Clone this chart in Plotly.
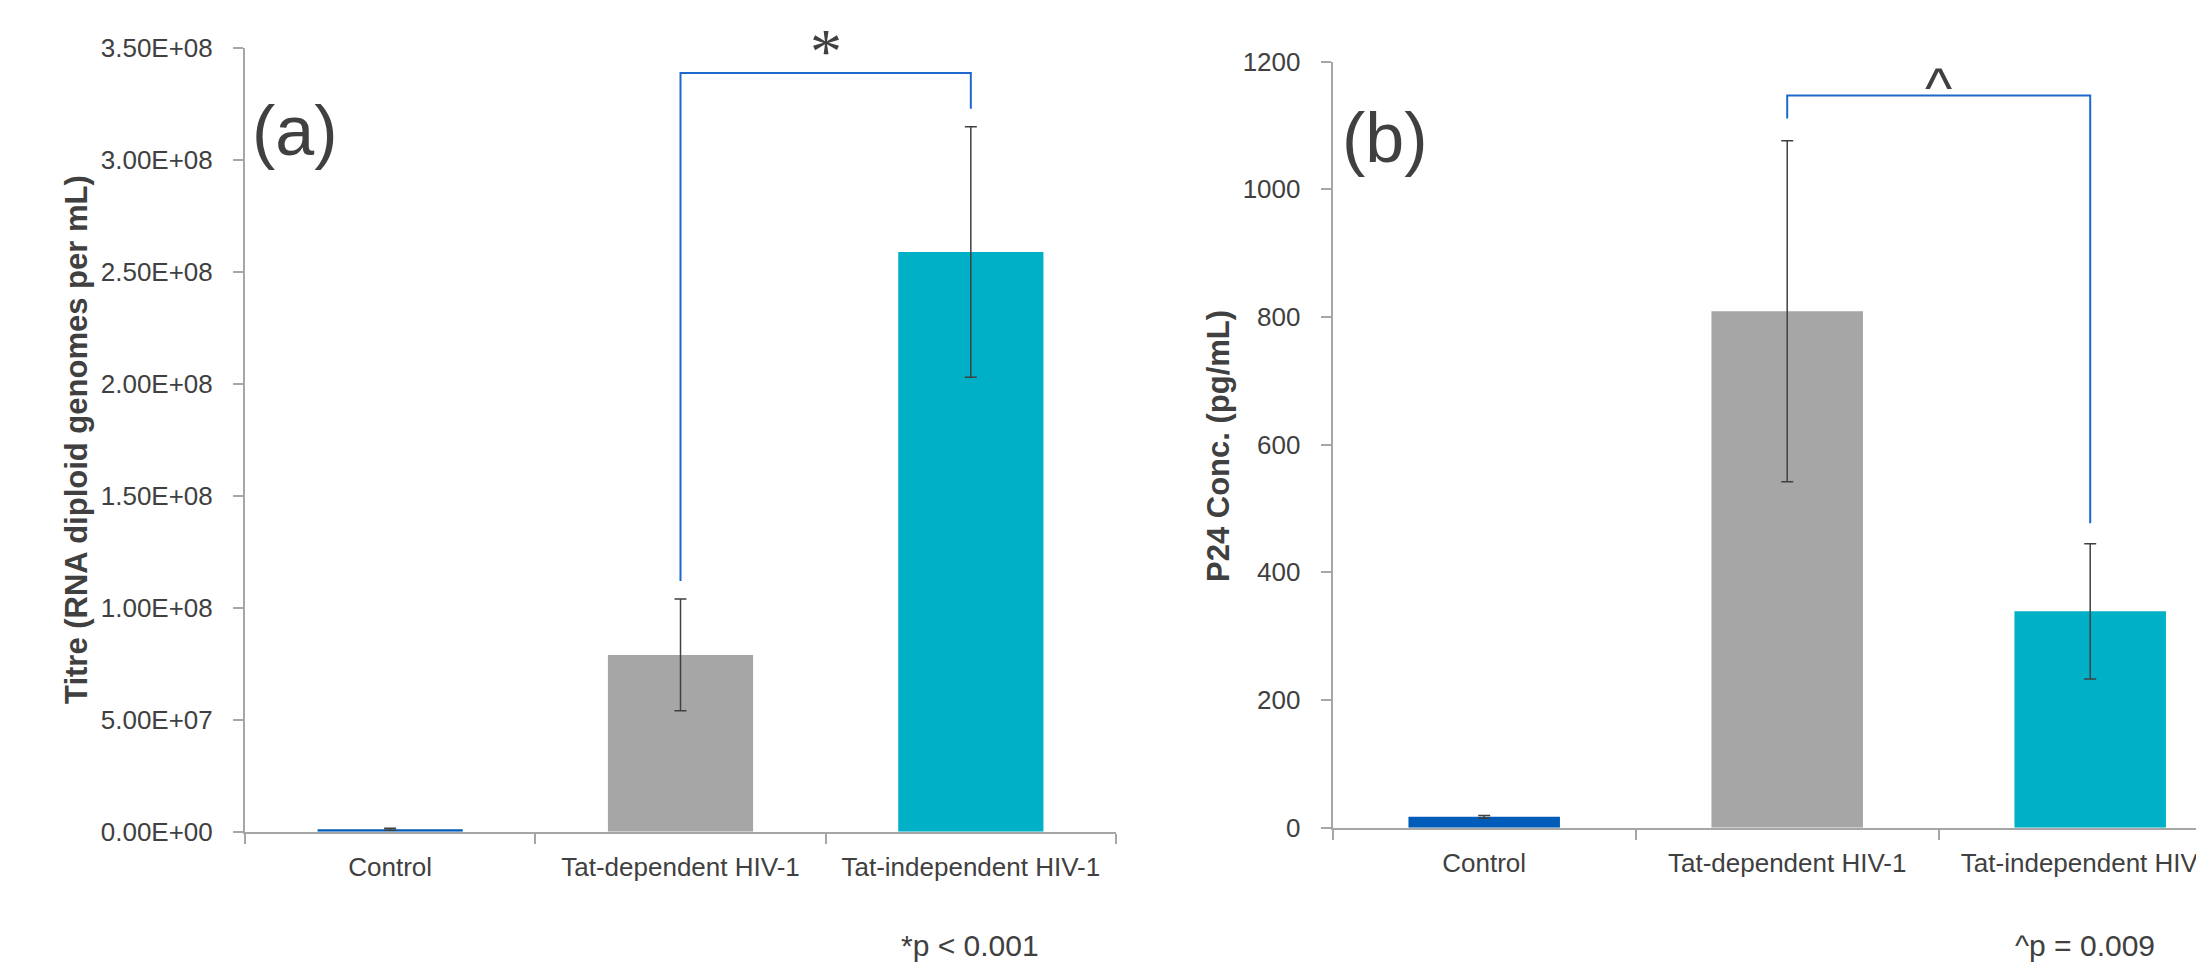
import plotly.graph_objects as go

# ---------------- data ----------------
categories = ["Control", "Tat-dependent HIV-1", "Tat-independent HIV-1"]
bar_colors = ["#005CB9", "#A6A6A6", "#00B0C6"]

# panel (a): titre (RNA diploid genomes per mL)
titre_mean = [1.1e6, 7.9e7, 2.59e8]
titre_err = [4e5, 2.5e7, 5.6e7]
titre_ticks = [0, 5e7, 1e8, 1.5e8, 2e8, 2.5e8, 3e8, 3.5e8]

# panel (b): P24 concentration (pg/mL)
p24_mean = [17, 809, 339]
p24_err = [2, 267, 106]
p24_ticks = [0, 200, 400, 600, 800, 1000, 1200]

# significance brackets (left foot, top, top, right foot)
bracket_cats = ["Tat-dependent HIV-1", "Tat-dependent HIV-1",
                "Tat-independent HIV-1", "Tat-independent HIV-1"]
bracket_a_y = [1.12e8, 3.39e8, 3.39e8, 3.23e8]
bracket_b_y = [1111, 1147, 1147, 477]
bracket_a_top = 3.39e8
bracket_b_top = 1147

# ---------------- style ----------------
VW, VH = 2204, 972          # browser viewport
OFF = 8                     # default page body margin
W, H = VW - OFF, VH - OFF   # figure size so the page fits the viewport
FONT = "Liberation Sans, Arial, sans-serif"
TXT = "#404040"
AXC = "#A6A6A6"
BRC = "#1C68CC"


def px_x(p):
    """screen x pixel -> paper fraction"""
    return (p - OFF) / W


def px_y(p):
    """screen y pixel (from top) -> paper fraction"""
    return 1 - (p - OFF) / H


fig = go.Figure()

fig.add_trace(go.Bar(
    x=categories, y=titre_mean, width=0.5,
    marker=dict(color=bar_colors, line=dict(width=0)),
    error_y=dict(type="data", array=titre_err, color=TXT, thickness=1.5, width=6),
    xaxis="x", yaxis="y", showlegend=False))

fig.add_trace(go.Bar(
    x=categories, y=p24_mean, width=0.5,
    marker=dict(color=bar_colors, line=dict(width=0)),
    error_y=dict(type="data", array=p24_err, color=TXT, thickness=1.5, width=6),
    xaxis="x2", yaxis="y2", showlegend=False))

fig.add_trace(go.Scatter(
    x=bracket_cats, y=bracket_a_y, mode="lines",
    line=dict(color=BRC, width=2), xaxis="x", yaxis="y",
    showlegend=False, hoverinfo="skip"))

fig.add_trace(go.Scatter(
    x=bracket_cats, y=bracket_b_y, mode="lines",
    line=dict(color=BRC, width=2), xaxis="x2", yaxis="y2",
    showlegend=False, hoverinfo="skip"))

xcommon = dict(type="category", showline=True, linecolor=AXC, linewidth=2,
               ticks="outside", tickson="boundaries", ticklen=10, tickwidth=1.5,
               tickcolor=AXC, tickfont=dict(family=FONT, size=26, color=TXT),
               showgrid=False, zeroline=False, ticklabelstandoff=11,
               automargin=False)
ycommon = dict(showline=True, linecolor=AXC, linewidth=2, ticks="outside",
               ticklen=10, tickwidth=1.5, tickcolor=AXC,
               tickfont=dict(family=FONT, size=26, color=TXT),
               showgrid=False, zeroline=False, ticklabelstandoff=15,
               automargin=False)

# category step for panel (b): axis runs past the right edge of the picture
b_left, b_step = 1332.7, 303.0
b_range_end = -0.5 + (VW - b_left) / b_step

fig.update_layout(
    width=W, height=H, autosize=False,
    margin=dict(l=0, r=0, t=0, b=0, pad=0, autoexpand=False),
    paper_bgcolor="white", plot_bgcolor="white",
    showlegend=False,
    bargap=0.5,
    xaxis=dict(xcommon, domain=[px_x(245), px_x(1116)], anchor="y",
               range=[-0.5, 2.5]),
    yaxis=dict(ycommon, domain=[px_y(831.7), px_y(48.3)], anchor="x",
               range=[0, 3.5e8], tickvals=titre_ticks,
               ticktext=[f"{v:.2E}" for v in titre_ticks]),
    xaxis2=dict(xcommon, domain=[px_x(b_left), 1.0], anchor="y2",
                range=[-0.5, b_range_end]),
    yaxis2=dict(ycommon, domain=[px_y(827.7), px_y(61.7)], anchor="x2",
                range=[0, 1200], tickvals=p24_ticks,
                ticktext=[str(v) for v in p24_ticks]),
)

annotations = [
    # significance markers
    dict(text="*", x=1.5, y=bracket_a_top, xref="x", yref="y",
         xanchor="center", yanchor="bottom", showarrow=False, yshift=-16,
         font=dict(family="Liberation Serif, Times New Roman, serif", size=64, color=TXT)),
    dict(text="^", x=1.5, y=bracket_b_top, xref="x2", yref="y2",
         xanchor="center", yanchor="bottom", showarrow=False, yshift=-26,
         font=dict(family=FONT, size=58, color=TXT)),
    # panel labels
    dict(text="(a)", x=px_x(250), y=px_y(131), xref="paper", yref="paper",
         xanchor="left", yanchor="middle", showarrow=False,
         font=dict(family=FONT, size=70, color=TXT)),
    dict(text="(b)", x=px_x(1340), y=px_y(138), xref="paper", yref="paper",
         xanchor="left", yanchor="middle", showarrow=False,
         font=dict(family=FONT, size=70, color=TXT)),
    # axis titles
    dict(text="<b>Titre (RNA diploid genomes per mL)</b>", x=px_x(77), y=px_y(440),
         xref="paper", yref="paper", xanchor="center", yanchor="middle",
         textangle=-90, showarrow=False,
         font=dict(family=FONT, size=31, color=TXT)),
    dict(text="<b>P24 Conc. (pg/mL)</b>", x=px_x(1219), y=px_y(446),
         xref="paper", yref="paper", xanchor="center", yanchor="middle",
         textangle=-90, showarrow=False,
         font=dict(family=FONT, size=31, color=TXT)),
    # footnotes
    dict(text="*p < 0.001", x=px_x(970), y=px_y(945), xref="paper", yref="paper",
         xanchor="center", yanchor="middle", showarrow=False,
         font=dict(family=FONT, size=30, color=TXT)),
    dict(text="^p = 0.009", x=px_x(2085), y=px_y(945), xref="paper", yref="paper",
         xanchor="center", yanchor="middle", showarrow=False,
         font=dict(family=FONT, size=30, color=TXT)),
]
fig.update_layout(annotations=annotations)

fig.write_html("out.html")
